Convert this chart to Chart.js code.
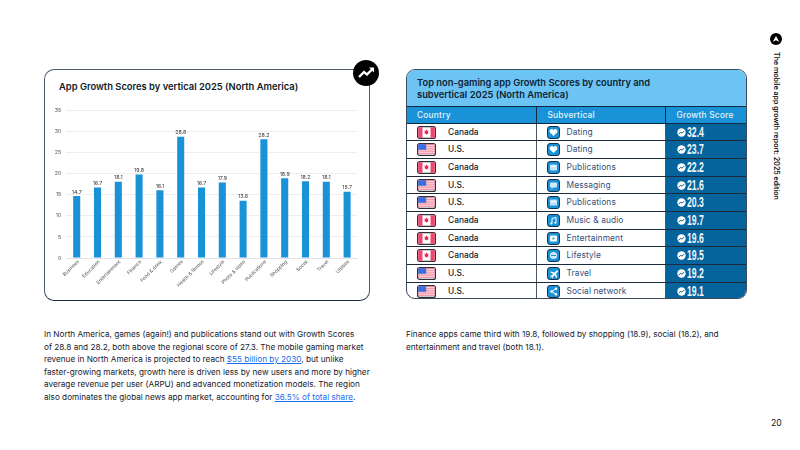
<!DOCTYPE html>
<html>
<head>
<meta charset="utf-8">
<script src="https://cdn.jsdelivr.net/npm/chart.js@4/dist/chart.umd.min.js"></script>
<style>
  html, body { margin: 0; padding: 0; background: #fff; }
  body { width: 800px; height: 450px; position: relative; overflow: hidden; font-family: Inter, sans-serif; color: #12202e; }
  .abs { position: absolute; white-space: nowrap; }
  #card { left: 44px; top: 69px; width: 324px; height: 230px; border: 1px solid #4a5868; border-bottom-color: #1c2a3a; border-radius: 10px; box-sizing: content-box; }
  #chartTitle { left: 59px; top: 81px; font-size: 9.4px; font-weight: 600; color: #0e1a26; }
  #chartBox { left: 45px; top: 100px; width: 323px; height: 197px; }
  #badge { left: 353px; top: 60px; width: 26px; height: 26px; border-radius: 50%; background: #000; }
  #tableBox { left: 406px; top: 69px; width: 341px; height: 230px; border: 1px solid #3a4a5a; border-radius: 9px; overflow: hidden; box-sizing: border-box; }
  #tableTitle { height: 37px; background: #6cc4f4; padding: 6.5px 10px 0; font-size: 9.35px; line-height: 12.6px; font-weight: 600; color: #0e2233; box-sizing: border-box; border-bottom: 1px solid #0e2a40; }
  table { border-collapse: collapse; table-layout: fixed; width: 339px; }
  th { height: 16px; padding: 0; background: #1a92d8; color: #e4f3fc; font-size: 8.4px; font-weight: 500; text-align: left; letter-spacing: .2px; border-right: 1px solid #0e2a40; border-bottom: 1px solid #0e2a40; box-sizing: border-box; }
  th:last-child, td:last-child { border-right: none; }
  td { height: 17.7px; padding: 0; font-size: 8.4px; border-right: 1px solid #4a5662; border-bottom: 1px solid #1c2a3a; position: relative; white-space: nowrap; box-sizing: border-box; }
  tr:last-child td { border-bottom: none; }
  td.c svg { position: absolute; left: 10px; top: 2px; }
  td.c span { position: absolute; left: 41px; top: 3px; color: #101c28; font-weight: 500; }
  td.s svg { position: absolute; left: 10px; top: 2px; }
  td.s span { position: absolute; left: 30px; top: 3px; color: #33507a; letter-spacing: .1px; }
  td.g { background: #05649c; color: #eaf5fc; }
  td.g svg { position: absolute; left: 11px; top: 4px; }
  td.g span { position: absolute; left: 21px; top: 0px; font: bold 14px "Liberation Sans Narrow", sans-serif; transform: scaleX(.62); transform-origin: left center; }
  .para { font-size: 8.2px; line-height: 12.55px; color: #17222e; }
  .para a { color: #1a6cf0; text-decoration: underline; }
  #side { left: 770px; top: 52px; font-size: 7.05px; font-weight: 600; color: #111; transform: rotate(90deg) translateY(-100%); transform-origin: left top; margin-left: 2px; }
  #logo { left: 770px; top: 33px; width: 12px; height: 12px; border-radius: 50%; background: #000; }
  #pageNo { left: 771px; top: 418px; font-size: 8.6px; color: #111; }
</style>
</head>
<body>
<div class="abs" id="card"></div>
<div class="abs" id="chartTitle">App Growth Scores by vertical 2025 (North America)</div>
<div class="abs" id="chartBox"><canvas id="chart" width="323" height="197"></canvas></div>
<div class="abs" id="badge">
  <svg width="26" height="26" viewBox="0 0 26 26"><path d="M6 17 L11 12 L14 14.5 L20 8.5" fill="none" stroke="#fff" stroke-width="2.4"/><path d="M16 7.5 L21 7.5 L21 12.5 Z" fill="#fff"/></svg>
</div>

<div class="abs" id="tableBox" style="white-space:normal">
  <div id="tableTitle">Top non-gaming app Growth Scores by country and<br>subvertical 2025 (North America)</div>
  <table id="scoreTable"></table>
</div>

<div class="abs para" style="left:44px;top:328px">
  In North America, games (again!) and publications stand out with Growth Scores<br>
  of 28.8 and 28.2, both above the regional score of 27.3. The mobile gaming market<br>
  revenue in North America is projected to reach <a>$55 billion by 2030</a>, but unlike<br>
  faster-growing markets, growth here is driven less by new users and more by higher<br>
  average revenue per user (ARPU) and advanced monetization models. The region<br>
  also dominates the global news app market, accounting for <a>36.5% of total share</a>.
</div>
<div class="abs para" style="left:406px;top:328px">
  Finance apps came third with 19.8, followed by shopping (18.9), social (18.2), and<br>
  entertainment and travel (both 18.1).
</div>

<div class="abs" id="logo">
  <svg width="12" height="12" viewBox="0 0 12 12" style="display:block"><path d="M2.8 8.8 L6 3 L9.2 8.8 L6 7.2 Z" fill="#fff"/></svg>
</div>
<div class="abs" id="side">The mobile app growth report: 2025 edition</div>
<div class="abs" id="pageNo">20</div>

<script>
const categories = ['Business', 'Education', 'Entertainment', 'Finance', 'Food & drink', 'Games', 'Health & fitness', 'Lifestyle', 'Photo & video', 'Publications', 'Shopping', 'Social', 'Travel', 'Utilities']
const scores = [14.7, 16.7, 18.1, 19.8, 16.1, 28.8, 16.7, 17.9, 13.6, 28.2, 18.9, 18.2, 18.1, 15.7]
const yTicks = [0, 5, 10, 15, 20, 25, 30, 35]

const countries = ['Canada', 'U.S.', 'Canada', 'U.S.', 'U.S.', 'Canada', 'Canada', 'Canada', 'U.S.', 'U.S.']
const subverticals = ['Dating', 'Dating', 'Publications', 'Messaging', 'Publications', 'Music & audio', 'Entertainment', 'Lifestyle', 'Travel', 'Social network']
const growthScores = ['32.4', '23.7', '22.2', '21.6', '20.3', '19.7', '19.6', '19.5', '19.2', '19.1']
const tableHeads = ['Country', 'Subvertical', 'Growth Score']

// value labels on top of the bars
const valueLabels = {
    id: 'valueLabels',
    afterDatasetsDraw(chart) {
        const ctx = chart.ctx
        ctx.save()
        ctx.font = '5.3px Inter'
        ctx.fillStyle = '#333'
        ctx.textAlign = 'center'
        ctx.textBaseline = 'bottom'
        chart.getDatasetMeta(0).data.forEach((bar, i) => {
            ctx.fillText(scores[i].toFixed(1), bar.x, bar.y - 1.5)
        })
        ctx.restore()
    }
}

new Chart(document.getElementById('chart'), {
    type: 'bar',
    data: {
        labels: categories,
        datasets: [{
            data: scores,
            backgroundColor: '#1a92d8',
            barPercentage: 0.34,
            categoryPercentage: 1
        }]
    },
    options: {
        responsive: false,
        animation: false,
        layout: { padding: { top: 10.5, right: 10.5, bottom: 0, left: 0 } },
        plugins: { legend: { display: false }, tooltip: { enabled: false } },
        scales: {
            x: {
                afterFit: axis => { axis.height = 39 },
                grid: { display: false },
                border: { color: '#dfe3ea' },
                ticks: { color: '#555', font: { size: 4.8, family: 'Inter' }, minRotation: 45, maxRotation: 45, autoSkip: false, padding: -7, labelOffset: 1.5 }
            },
            y: {
                min: 0,
                max: 35,
                afterFit: axis => { axis.width = 21.3 },
                afterBuildTicks: axis => { axis.ticks = yTicks.map(v => ({ value: v })) },
                grid: { color: '#eeeeee', drawTicks: false },
                border: { display: false },
                ticks: { color: '#555', font: { size: 5.3, family: 'Inter' }, padding: 5 }
            }
        }
    },
    plugins: [valueLabels]
})

function flag(country) {
    if (country === 'Canada') {
        return '<svg width="19" height="13" viewBox="0 0 19 13"><rect x=".6" y=".6" width="17.8" height="11.8" rx="2" fill="#fff" stroke="#33303c" stroke-width="1.2"/><path d="M1.2 1.2h4.3v10.6H1.2zM13.5 1.2h4.3v10.6h-4.3z" fill="#f0476f"/><path d="M9.5 3.5l1 1.4 1-.3-.4 2 .6.4-2.2 1.5-2.2-1.5.6-.4-.4-2 1 .3z" fill="#e02b55"/></svg>'
    }
    let stripes = ''
    for (let y = 1.2; y < 11.5; y += 2.1) stripes += '<rect x="1" y="' + y + '" width="17" height="1.1" fill="#f0708c"/>'
    return '<svg width="19" height="13" viewBox="0 0 19 13"><rect x=".6" y=".6" width="17.8" height="11.8" rx="2" fill="#fff" stroke="#33303c" stroke-width="1.2"/>' + stripes + '<rect x="1.2" y="1.2" width="8" height="5.6" fill="#3b6fe0"/></svg>'
}

const glyphs = {
    'Dating': '<path d="M6.5 10L3 6.5A2 2 0 0 1 6.5 4 2 2 0 0 1 10 6.5z" fill="#fff"/>',
    'Publications': '<rect x="3" y="3.5" width="7" height="6" rx=".8" fill="#bfe3f8"/><rect x="4" y="5" width="5" height="1" fill="#fff"/>',
    'Messaging': '<rect x="3" y="3.5" width="7" height="5" rx="1" fill="#cfeafa"/><path d="M4.5 8.5v2l2-2z" fill="#cfeafa"/>',
    'Music & audio': '<path d="M5 4.5l4-1v5.2M5 4.5v5" fill="none" stroke="#fff" stroke-width="1"/><circle cx="4.3" cy="9.6" r="1" fill="#fff"/><circle cx="8.3" cy="8.8" r="1" fill="#fff"/>',
    'Entertainment': '<rect x="3" y="3.5" width="7" height="6" rx="1" fill="#fff"/><path d="M5.6 5l2.4 1.5-2.4 1.5z" fill="#1a92d8"/>',
    'Lifestyle': '<circle cx="6.5" cy="6.5" r="3.6" fill="#cfeafa"/><path d="M4 6.5h5" stroke="#1a92d8"/>',
    'Travel': '<path d="M9.8 3.2L7.6 5.4 3.5 4.4 3 5l3.2 1.9-1.7 1.9-1.2-.2-.4.4 1.6 1 1 1.6.4-.4-.2-1.2 1.9-1.7L9.5 11l.6-.5-1-4.1 2.2-2.2z" fill="#fff"/>',
    'Social network': '<path d="M9 3.8L4.5 6.5 9 9.2" fill="none" stroke="#fff"/><circle cx="9" cy="3.8" r="1.2" fill="#fff"/><circle cx="4.5" cy="6.5" r="1.2" fill="#fff"/><circle cx="9" cy="9.2" r="1.2" fill="#fff"/>'
}

function subIcon(name) {
    return '<svg width="13" height="13" viewBox="0 0 13 13"><rect x=".5" y=".5" width="12" height="12" rx="2.6" fill="#1a92d8" stroke="#12304a"/>' + glyphs[name] + '</svg>'
}

const trendIcon = '<svg width="9" height="9" viewBox="0 0 9 9"><circle cx="4.5" cy="4.5" r="4.2" fill="#fff"/><path d="M1.8 6L3.8 4.3 5 5.2 7.2 3" fill="none" stroke="#05649c" stroke-width="1"/></svg>'

let html = '<colgroup><col style="width:129px"><col style="width:129px"><col style="width:81px"></colgroup><tr>'
const headPads = [10, 11, 11]
tableHeads.forEach((h, i) => { html += '<th style="padding-left:' + headPads[i] + 'px">' + h + '</th>' })
html += '</tr>'
countries.forEach((c, i) => {
    html += '<tr><td class="c">' + flag(c) + '<span>' + c + '</span></td>'
    html += '<td class="s">' + subIcon(subverticals[i]) + '<span>' + subverticals[i] + '</span></td>'
    html += '<td class="g">' + trendIcon + '<span>' + growthScores[i] + '</span></td></tr>'
})
document.getElementById('scoreTable').innerHTML = html
</script>
</body>
</html>
